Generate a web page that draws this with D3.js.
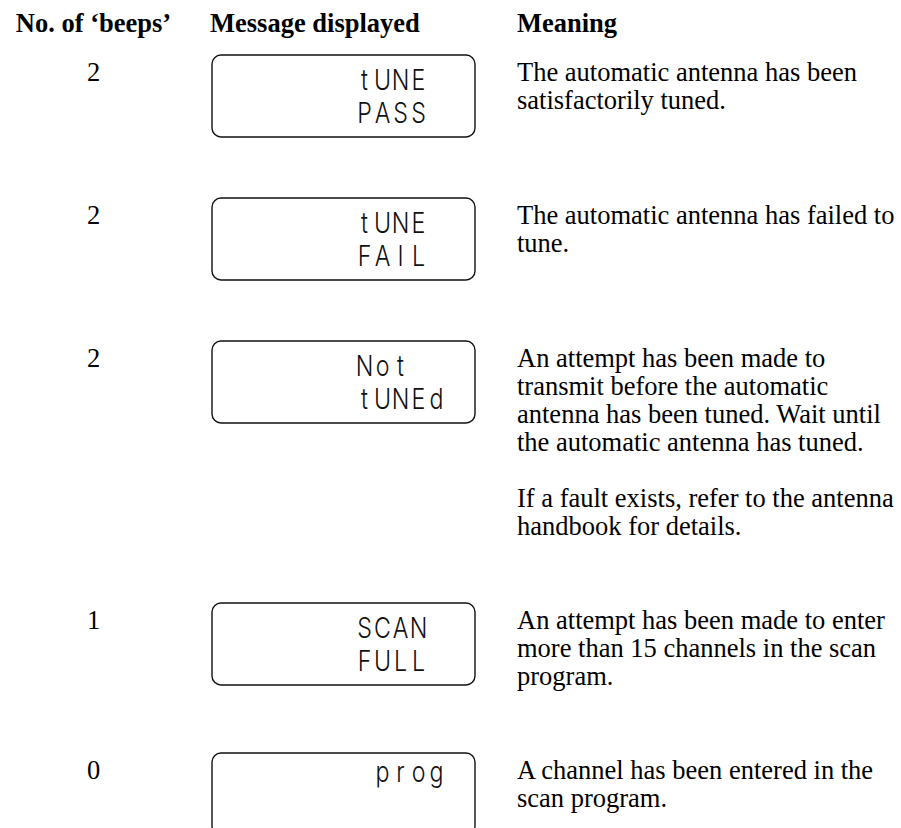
<!DOCTYPE html>
<html>
<head>
<meta charset="utf-8">
<script src="https://cdn.jsdelivr.net/npm/d3@7"></script>
<style>
  html, body { margin: 0; padding: 0; background: #fff; }
  svg { display: block; }
</style>
</head>
<body>
<script>
// ---------- data ----------
const headers = ["No. of \u2018beeps\u2019", "Message displayed", "Meaning"];
const beeps = ["2", "2", "2", "1", "0"];
const displayTop = ["tUNE", "tUNE", "Not", "SCAN", " prog"];
const displayBottom = ["PASS", "FAIL", "tUNEd", "FULL", ""];
const meaningLines = [
  ["The automatic antenna has been", "satisfactorily tuned."],
  ["The automatic antenna has failed to", "tune."],
  ["An attempt has been made to", "transmit before the automatic",
   "antenna has been tuned. Wait until", "the automatic antenna has tuned.", "",
   "If a fault exists, refer to the antenna", "handbook for details."],
  ["An attempt has been made to enter", "more than 15 channels in the scan", "program."],
  ["A channel has been entered in the", "scan program."]
];

// ---------- layout ----------
const W = 901, H = 828;
const firstTop = 55, boxH = 82, lineH = 28, baseOff = 26, gapBox = 61, gapText = 68;
const serif = "'Liberation Serif', 'Times New Roman', Times, serif";
const fs = 26.5;

// row tops computed from content
const tops = [];
beeps.forEach((_, i) => {
  if (i === 0) { tops.push(firstTop); return; }
  const t = tops[i - 1];
  const lastBase = t + baseOff + (meaningLines[i - 1].length - 1) * lineH;
  tops.push(Math.max(t + boxH + gapBox, lastBase + gapText));
});
const y = d3.scaleOrdinal().domain(d3.range(beeps.length)).range(tops);
const col = d3.scaleOrdinal().domain(["num", "box", "boxEnd", "text"]).range([93.5, 212, 475, 517]);
const charX = d3.scaleLinear().domain([0, 1]).range([364.5, 382.5]);

const svg = d3.select("body").append("svg").attr("width", W).attr("height", H);

// headers
svg.append("text").attr("x", col("num")).attr("y", 32).attr("text-anchor", "middle")
  .attr("font-family", serif).attr("font-weight", "bold").attr("font-size", fs).text(headers[0]);
svg.append("text").attr("x", 210).attr("y", 32)
  .attr("font-family", serif).attr("font-weight", "bold").attr("font-size", fs).text(headers[1]);
svg.append("text").attr("x", col("text")).attr("y", 32)
  .attr("font-family", serif).attr("font-weight", "bold").attr("font-size", fs).text(headers[2]);

const rows = svg.selectAll("g.row").data(beeps.map((b, i) => ({
  b, i, top: displayTop[i], bottom: displayBottom[i], lines: meaningLines[i]
}))).join("g").attr("class", "row");

// beep count
rows.append("text")
  .attr("x", col("num")).attr("y", d => y(d.i) + baseOff)
  .attr("text-anchor", "middle").attr("font-family", serif).attr("font-size", fs)
  .text(d => d.b);

// display boxes
rows.append("rect")
  .attr("x", col("box")).attr("y", d => y(d.i))
  .attr("width", col("boxEnd") - col("box")).attr("height", boxH)
  .attr("rx", 9).attr("ry", 9)
  .attr("fill", "none").attr("stroke", "#111").attr("stroke-width", 1.4);

// LCD characters
const lcdFont = "Inter, Roboto, Lato, 'DejaVu Sans', sans-serif";
function lcdLine(sel, key, baseFn) {
  sel.each(function (d) {
    const str = d[key];
    const lowerOnly = /^[a-z\s]*$/.test(str);
    const base = baseFn(d) - (lowerOnly ? 6 : 0);
    d3.select(this).selectAll("text.lcd-" + key)
      .data(str.split("").map((c, k) => ({ c, k })))
      .join("text")
      .attr("class", "lcd-" + key)
      .attr("transform", c => `translate(${charX(c.k)},${base}) scale(0.8,1)`)
      .attr("text-anchor", "middle")
      .attr("font-family", lcdFont).attr("font-weight", 300).attr("font-size", 29)
      .attr("fill", "#111")
      .text(c => c.c);
  });
}
lcdLine(rows, "top", d => y(d.i) + 35);
lcdLine(rows, "bottom", d => y(d.i) + 68);

// meaning text
rows.each(function (d) {
  d3.select(this).selectAll("text.meaning")
    .data(d.lines.map((t, k) => ({ t, k })))
    .join("text").attr("class", "meaning")
    .attr("x", col("text"))
    .attr("y", l => y(d.i) + baseOff + l.k * lineH)
    .attr("font-family", serif).attr("font-size", fs)
    .text(l => l.t);
});
</script>
</body>
</html>
